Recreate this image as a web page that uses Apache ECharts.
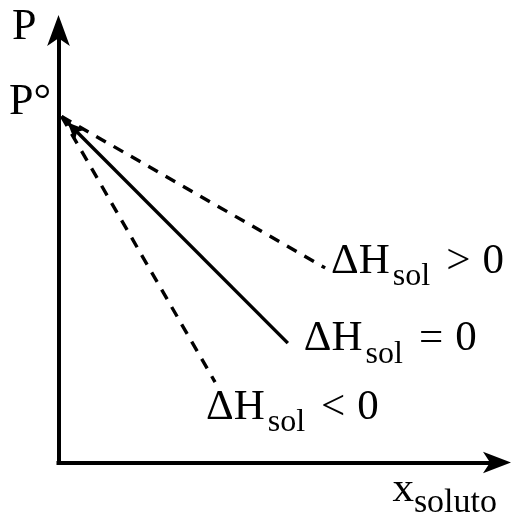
<!DOCTYPE html>
<html>
<head>
<meta charset="utf-8">
<script src="https://cdn.jsdelivr.net/npm/echarts@6/dist/echarts.min.js"></script>
<style>
  html, body { margin: 0; padding: 0; background: #ffffff; }
  #chart { width: 512px; height: 515px; }
</style>
</head>
<body>
<div id="chart"></div>
<script>
// Vapour pressure of a solution vs. solute mole fraction (schematic)
const P0 = 8.0;                       // pure-solvent vapour pressure
const startPoint = [0.07, P0];        // all three curves start at P°
const endPositive = [6.08, 4.50];     // ΔH_sol > 0
const endIdeal = [5.23, 2.76];        // ΔH_sol = 0 (Raoult)
const endNegative = [3.57, 1.86];     // ΔH_sol < 0
const relations = ['>', '=', '<'];
const yAxisName = 'P';
const yTickLabel = 'P°';
const xAxisMain = 'x';
const xAxisSub = 'soluto';

const SERIF = 'Liberation Serif, Times New Roman, serif';

// main text / subscript / relation sign; the tall line box pushes the subscript down
const labelRich = {
  a: { fontFamily: SERIF, fontSize: 43, color: '#000', lineHeight: 62 },
  b: { fontFamily: SERIF, fontSize: 32, color: '#000', verticalAlign: 'bottom', padding: [0, 0, 0, 3] },
  r: { fontFamily: SERIF, fontSize: 43, color: '#000', lineHeight: 62, padding: [0, 12, 0, 16] }
};

function dhLabel(rel) {
  return '{a|ΔH}{b|sol}{r|' + rel + '}{a|0}';
}

const chart = echarts.init(document.getElementById('chart'), null, { renderer: 'canvas' });

chart.setOption({
  animation: false,
  backgroundColor: '#ffffff',
  grid: { left: 58.5, right: 15, top: 30, bottom: 52.5, outerBoundsMode: 'none', containLabel: false },
  xAxis: {
    type: 'value', min: 0, max: 10,
    axisLine: {
      show: true, onZero: false,
      symbol: ['none', 'arrow'], symbolSize: [16, 28], symbolOffset: [0, 14],
      lineStyle: { color: '#000', width: 4, cap: 'square' }
    },
    axisTick: { show: false },
    splitLine: { show: false },
    axisLabel: { show: false },
    name: '{m|' + xAxisMain + '}{s|' + xAxisSub + '}',
    nameLocation: 'end',
    nameGap: 0,
    nameTextStyle: {
      align: 'right', verticalAlign: 'middle', padding: [54, 0, 0, 0],
      rich: {
        m: { fontFamily: SERIF, fontSize: 43, color: '#000', lineHeight: 62 },
        s: { fontFamily: SERIF, fontSize: 34, color: '#000', verticalAlign: 'bottom' }
      }
    }
  },
  yAxis: {
    type: 'value', min: 0, max: 10,
    axisLine: {
      show: true, onZero: false,
      symbol: ['none', 'arrow'], symbolSize: [17, 31], symbolOffset: [0, 15],
      lineStyle: { color: '#000', width: 4, cap: 'square' }
    },
    axisTick: { show: false },
    splitLine: { show: false },
    axisLabel: {
      show: true,
      customValues: [P0],
      formatter: function () { return yTickLabel; },
      fontFamily: SERIF, fontSize: 44, color: '#000',
      margin: 7.5,
      verticalAlign: 'bottom',
      lineHeight: 28
    },
    name: yAxisName,
    nameLocation: 'end',
    nameGap: 3,
    nameTextStyle: {
      fontFamily: SERIF, fontSize: 44, color: '#000',
      align: 'right', verticalAlign: 'middle', padding: [0, 22, 0, 0]
    }
  },
  series: [
    {
      name: 'positive',
      type: 'line',
      symbol: 'none',
      data: [startPoint, endPositive],
      lineStyle: { color: '#000', width: 3.4, type: [11, 9] },
      endLabel: {
        show: true, formatter: dhLabel(relations[0]), distance: 6,
        align: 'left', verticalAlign: 'middle', padding: [0, 0, 12, 0],
        rich: labelRich
      },
      silent: true
    },
    {
      name: 'ideal',
      type: 'line',
      symbol: 'none',
      data: [
        { value: startPoint, symbol: 'arrow', symbolSize: [12, 18], symbolRotate: 45, symbolOffset: [6, 6], itemStyle: { color: '#000' } },
        endIdeal
      ],
      lineStyle: { color: '#000', width: 3.4, type: 'solid' },
      itemStyle: { color: '#000' },
      endLabel: {
        show: true, formatter: dhLabel(relations[1]), distance: 16,
        align: 'left', verticalAlign: 'middle', padding: [0, 0, 8, 0],
        rich: labelRich
      },
      silent: true
    },
    {
      name: 'negative',
      type: 'line',
      symbol: 'none',
      data: [startPoint, endNegative],
      lineStyle: { color: '#000', width: 3.4, type: [11, 9] },
      endLabel: {
        show: true, formatter: dhLabel(relations[2]), distance: -9,
        align: 'left', verticalAlign: 'middle', padding: [51, 0, 0, 0],
        rich: labelRich
      },
      silent: true
    }
  ]
});
</script>
</body>
</html>
